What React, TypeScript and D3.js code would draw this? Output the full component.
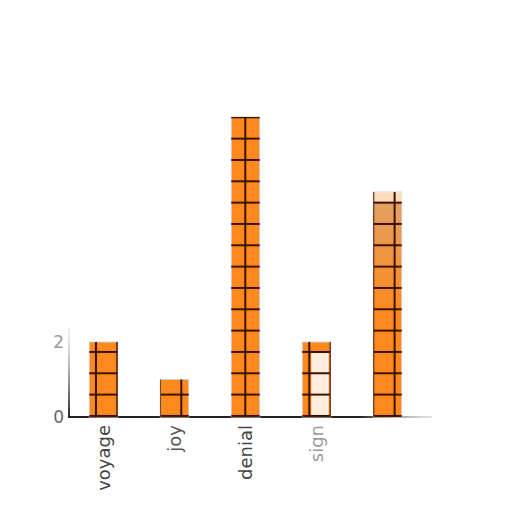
import React, { useEffect, useRef } from 'react';
import * as d3 from 'd3';

const categories = ['voyage', 'joy', 'denial', 'sign', ''];
const values = [2, 1, 8, 2, 6];
const labelColors = ['#444', '#555', '#444', '#9a9a9a', '#444'];
const yTicks = [0, 2];

const App: React.FC = () => {
  const svgRef = useRef<SVGSVGElement>(null);

  useEffect(() => {
    if (!svgRef.current) return;
    const svg = d3.select(svgRef.current);
    svg.selectAll('*').remove();

    const x = d3.scaleBand<string>()
      .domain(categories.map((c, i) => `${i}`))
      .range([68, 423])
      .paddingInner(0.6)
      .paddingOuter(0.3);
    const y = d3.scaleLinear().domain([0, 8]).range([417, 117]);

    const defs = svg.append('defs');
    const tile = 21.33;
    const pat = defs.append('pattern')
      .attr('id', 'grid')
      .attr('patternUnits', 'userSpaceOnUse')
      .attr('width', tile)
      .attr('height', tile);
    pat.append('line')
      .attr('x1', tile / 2).attr('x2', tile / 2)
      .attr('y1', 0).attr('y2', tile)
      .attr('stroke', '#3d0f00').attr('stroke-width', 2);
    pat.append('line')
      .attr('y1', tile / 2).attr('y2', tile / 2)
      .attr('x1', 0).attr('x2', tile)
      .attr('stroke', '#3d0f00').attr('stroke-width', 2);

    const yFade = defs.append('linearGradient')
      .attr('id', 'yfade').attr('x1', 0).attr('x2', 0).attr('y1', 0).attr('y2', 1);
    yFade.append('stop').attr('offset', '0%').attr('stop-color', '#bbb').attr('stop-opacity', 0.2);
    yFade.append('stop').attr('offset', '100%').attr('stop-color', '#222');
    const xFade = defs.append('linearGradient')
      .attr('id', 'xfade').attr('x1', 0).attr('x2', 1).attr('y1', 0).attr('y2', 0);
    xFade.append('stop').attr('offset', '80%').attr('stop-color', '#222');
    xFade.append('stop').attr('offset', '100%').attr('stop-color', '#aaa').attr('stop-opacity', 0.3);
    const topFade = defs.append('linearGradient')
      .attr('id', 'topfade').attr('x1', 0).attr('x2', 0).attr('y1', 0).attr('y2', 1);
    topFade.append('stop').attr('offset', '0%').attr('stop-color', '#c8b8a8').attr('stop-opacity', 0.5);
    topFade.append('stop').attr('offset', '100%').attr('stop-color', '#c8b8a8').attr('stop-opacity', 0);

    // axes
    svg.append('rect')
      .attr('x', 68).attr('y', 328).attr('width', 2).attr('height', 90)
      .attr('fill', 'url(#yfade)');
    svg.append('rect')
      .attr('x', 68).attr('y', 416).attr('width', 364).attr('height', 2)
      .attr('fill', 'url(#xfade)');

    svg.append('g').selectAll('text')
      .data(yTicks)
      .join('text')
      .attr('x', 64)
      .attr('y', d => y(d))
      .attr('dy', '0.35em')
      .attr('text-anchor', 'end')
      .attr('font-family', 'DejaVu Sans')
      .attr('font-size', 17)
      .attr('fill', d => (d === 0 ? '#666' : '#999'))
      .text(d => d);

    svg.append('g').selectAll('rect')
      .data(values)
      .join('rect')
      .attr('x', (d, i) => x(`${i}`)!)
      .attr('y', d => y(d))
      .attr('width', x.bandwidth())
      .attr('height', d => y(0) - y(d))
      .attr('fill', '#fd8a1d')
      .attr('stroke', '#d8cfc8')
      .attr('stroke-width', 1);

    // faded cells in the "sign" bar and the top of the last bar
    const sx = x('3')!;
    svg.append('rect')
      .attr('x', sx + 9).attr('y', y(2) + 11)
      .attr('width', x.bandwidth() - 11).attr('height', y(0) - y(2) - 13)
      .attr('fill', '#fff').attr('opacity', 0.85);
    svg.append('rect')
      .attr('x', x('4')!).attr('y', y(6))
      .attr('width', x.bandwidth()).attr('height', 10)
      .attr('fill', '#fff').attr('opacity', 0.7);
    svg.append('rect')
      .attr('x', x('4')!).attr('y', y(6) + 10)
      .attr('width', x.bandwidth()).attr('height', 110)
      .attr('fill', 'url(#topfade)');

    svg.append('g').selectAll('rect')
      .data(values)
      .join('rect')
      .attr('x', (d, i) => x(`${i}`)!)
      .attr('y', d => y(d))
      .attr('width', x.bandwidth())
      .attr('height', d => y(0) - y(d))
      .attr('fill', 'url(#grid)');

    svg.append('g').selectAll('text')
      .data(categories)
      .join('text')
      .attr('transform', (d, i) => `translate(${x(`${i}`)! + x.bandwidth() / 2},425) rotate(-90)`)
      .attr('dy', '0.35em')
      .attr('text-anchor', 'end')
      .attr('font-family', 'DejaVu Sans')
      .attr('font-size', 18)
      .attr('fill', (d, i) => labelColors[i])
      .text(d => d);
  }, []);

  return (
    <div style={{ position: 'absolute', left: 0, top: 0, width: 512, height: 512, background: '#fff' }}>
      <svg ref={svgRef} width={512} height={512} />
    </div>
  );
};

export default App;
